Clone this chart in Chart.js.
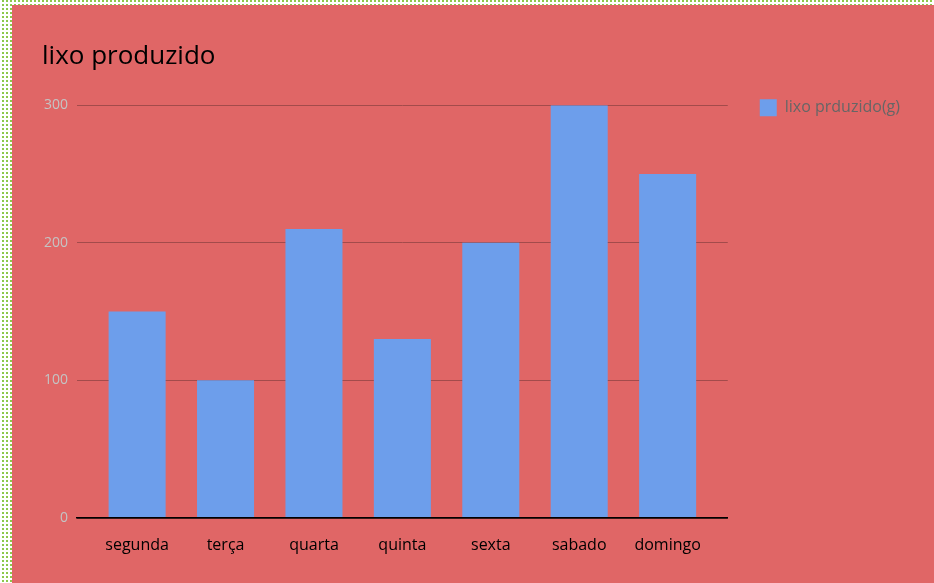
<!DOCTYPE html>
<html>
<head>
<meta charset="utf-8">
<script src="https://cdn.jsdelivr.net/npm/chart.js@4.4.1/dist/chart.umd.min.js"></script>
<style>
  html, body { margin: 0; padding: 0; }
  body {
    width: 934px;
    height: 583px;
    overflow: hidden;
    background-color: #ffffff;
    background-image: conic-gradient(#8cc84b 0 25%, #ffffff 0 100%);
    background-size: 4px 4px;
  }
  .wrap {
    position: absolute;
    left: 12px;
    top: 5px;
    width: 922px;
    height: 578px;
    background: #e06666;
  }
</style>
</head>
<body>
<div class="wrap"><canvas id="chart" width="922" height="578"></canvas></div>
<script>
const days = ["segunda", "terça", "quarta", "quinta", "sexta", "sabado", "domingo"];
const lixo = [150, 100, 210, 130, 200, 300, 250];
const yTicks = [0, 100, 200, 300];

const font = '"Comic Sans MS", "Open Sans", sans-serif';

new Chart(document.getElementById("chart"), {
  type: "bar",
  data: {
    datasets: [
      {
        label: "lixo prduzido(g)",
        data: lixo.map((v, i) => ({ x: i, y: v })),
        backgroundColor: "#6d9eeb",
        borderWidth: 0,
        categoryPercentage: 0.645,
        barPercentage: 1,
      },
    ],
  },
  options: {
    responsive: false,
    animation: false,
    layout: { padding: { left: 30, right: 24, top: 0, bottom: 18 } },
    plugins: {
      title: {
        display: true,
        text: "lixo produzido",
        align: "start",
        color: "#000000",
        font: { family: font, size: 26, weight: "normal" },
        padding: { top: 36, bottom: 33 },
      },
      legend: {
        position: "right",
        align: "start",
        title: {
          display: true,
          text: "",
          font: { size: 1 },
          padding: { top: 61, bottom: 0 },
        },
        labels: {
          color: "#666666",
          font: { family: font, size: 16 },
          boxWidth: 17,
          boxHeight: 17,
          padding: 32,
        },
      },
      tooltip: { enabled: false },
    },
    scales: {
      x: {
        type: "linear",
        min: -0.68,
        max: days.length - 1 + 0.68,
        offset: false,
        afterBuildTicks: (axis) => {
          axis.ticks = days.map((d, i) => ({ value: i }));
        },
        grid: { display: false },
        border: { color: "#000000", width: 1.5 },
        ticks: {
          color: "#000000",
          font: { family: font, size: 16 },
          padding: 10,
          maxRotation: 0,
          autoSkip: false,
          callback: (value) => days[value],
        },
      },
      y: {
        min: 0,
        max: 300,
        afterBuildTicks: (axis) => {
          axis.ticks = yTicks.map((v) => ({ value: v }));
        },
        afterFit: (axis) => {
          axis.width = 35;
        },
        border: { display: false },
        grid: {
          drawTicks: false,
          color: (ctx) => (ctx.tick && ctx.tick.value === 0 ? "#000000" : "#a34b4b"),
          lineWidth: (ctx) => (ctx.tick && ctx.tick.value === 0 ? 1.5 : 1),
        },
        ticks: {
          color: "#c4c4c4",
          font: { family: font, size: 14 },
          padding: 9,
        },
      },
    },
  },
});
</script>
</body>
</html>
